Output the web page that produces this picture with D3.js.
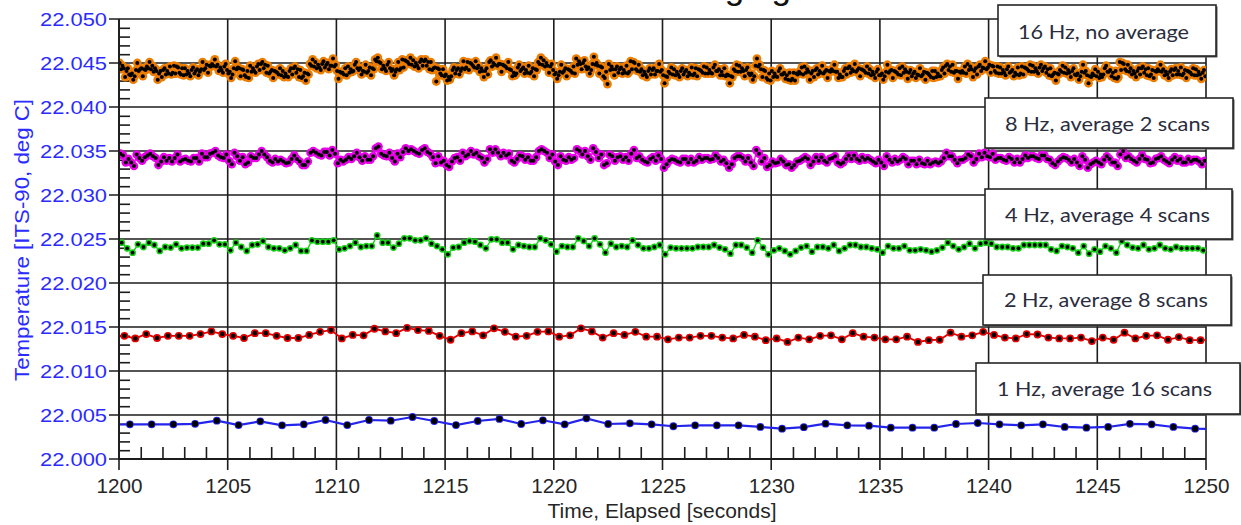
<!DOCTYPE html>
<html>
<head>
<meta charset="utf-8">
<script src="https://cdn.jsdelivr.net/npm/d3@7.9.0/dist/d3.min.js"></script>
<style>
  html, body { margin: 0; padding: 0; background: #fff; }
  svg { display: block; }
</style>
</head>
<body>
<svg id="chart" width="1241" height="525"></svg>
<script>
// all readings are mK above 22.000 deg C
const hz1 = [3.9, 3.94, 3.94, 3.94, 4.0, 4.35, 3.86, 4.28, 3.83, 3.94, 4.43, 3.86, 4.43, 4.35, 4.77,
  4.32, 3.86, 4.32, 4.55, 3.98, 4.40, 3.94, 4.62, 3.98, 4.05, 3.94, 3.72, 3.83, 3.83, 3.83, 3.64, 3.45,
  3.62, 4.01, 3.83, 3.79, 3.56, 3.56, 3.56, 3.98, 4.09, 3.94, 3.83, 3.94, 3.64, 3.56, 3.64, 4.0, 3.94, 3.64, 3.45, 3.4];

const hz2 = [14.0,
  14.0, 13.7, 14.2, 13.75, 14.0, 14.0, 14.0, 14.2, 14.5, 14.2, 14.0, 13.75, 14.3, 14.3, 14.0, 13.75, 13.75, 14.1, 14.45, 14.65,
  13.7, 14.1, 14.05, 14.8, 14.5, 14.3, 14.9, 14.65, 14.55, 14.0, 13.55, 14.3, 14.5, 14.05, 14.85, 14.45, 13.9, 14.0, 14.45, 14.5,
  13.9, 14.05, 14.85, 14.5, 13.8, 14.3, 14.1, 14.45, 13.9, 13.9, 13.6, 13.8, 13.8, 14.0, 14.0, 13.8, 13.7, 14.1, 13.9, 13.5,
  13.7, 13.3, 13.8, 13.6, 14.0, 14.05, 13.6, 14.3, 13.9, 13.8, 13.6, 13.6, 13.9, 13.3, 13.5, 13.55, 14.35, 13.9, 14.05, 14.45,
  14.1, 13.8, 13.7, 14.2, 14.15, 13.8, 13.7, 13.7, 13.8, 13.4, 13.8, 13.55, 14.35, 13.7, 14.0, 14.05, 13.55, 13.85, 13.5, 13.5,
  13.5];

const hz4 = [24.4,
  24.58, 23.94, 23.45, 24.39, 24.09, 24.58, 24.32, 23.64, 24.09, 24.02, 24.39, 23.94, 24.02, 24.02, 24.02, 24.47, 24.47, 24.85, 24.39, 24.39,
  23.71, 24.58, 24.09, 23.64, 24.32, 24.39, 24.77, 24.09, 23.94, 23.94, 23.71, 23.94, 24.32, 23.64, 23.64, 24.85, 24.7, 24.7, 24.7, 24.85,
  23.83, 23.94, 24.2, 24.58, 24.09, 24.2, 24.2, 25.4, 24.58, 24.58, 24.02, 24.47, 25.08, 25.08, 24.85, 24.85, 25.08, 24.47, 24.2, 23.83,
  23.26, 24.02, 24.09, 24.58, 24.77, 24.7, 24.32,
  23.94, 24.96, 24.96, 24.58, 24.58, 23.83, 24.32, 24.2, 24.09, 24.09, 25.08, 24.85, 24.39, 23.56, 24.2, 24.09, 24.09, 25.08, 24.77, 24.2,
  25.08, 24.39, 23.45, 24.47, 24.09, 24.2, 24.09, 24.85, 24.32, 23.94, 23.94, 24.09, 24.32, 23.26, 24.02, 23.94, 23.94, 23.94, 23.94, 24.09,
  24.09, 24.09, 24.32, 24.02, 23.83, 23.33, 24.32, 24.32, 24.02, 23.45, 24.85, 24.02, 23.26, 23.71, 23.94, 23.64, 23.26, 23.64, 24.02, 24.2,
  23.56, 24.09, 24.09, 23.94, 24.32, 23.64,
  23.94, 24.32, 24.32, 24.09, 24.09, 23.94, 23.83, 23.45, 24.2, 23.94, 23.94, 24.2, 23.71, 23.71, 23.83, 23.71, 23.56, 23.71, 24.02, 24.58,
  24.2, 23.83, 24.09, 24.47, 23.94, 24.47, 24.58, 24.47, 24.09, 24.09, 24.09, 23.94, 23.94, 24.32, 24.32, 24.32, 24.32, 24.32, 23.83, 23.64,
  24.2, 24.09, 23.94, 23.45, 24.2, 23.33, 23.83, 23.56, 24.2, 23.94, 23.45, 24.77, 24.32, 24.02, 23.94, 24.32, 23.83, 23.94, 24.32, 23.94,
  23.83, 24.09, 23.94, 23.94, 23.94, 23.94, 23.71,
  23.8];

const hz8 = [
  34.7,34.5, 33.7,34.1, 33.7,33.3, 34.6,34.2, 33.9,34.3, 34.5,34.7, 34.4,34.2, 33.4,33.8, 34.3,33.9, 34.2,33.8,
  34.2,34.6, 33.8,34.0, 34.1,33.9, 33.8,34.2, 34.2,33.8, 34.7,34.3, 34.3,34.7, 34.8,35.0, 34.5,34.3, 34.2,34.6,
  33.9,33.5, 34.8,34.4, 33.9,34.3, 33.5,33.7, 34.4,34.2, 34.2,34.6, 35.0,34.6, 34.3,33.9, 33.7,34.1, 33.8,34.0,
  33.8,33.6, 33.7,34.1, 34.5,34.1, 33.8,33.4, 33.4,33.8, 34.8,35.0, 34.8,34.6, 34.5,34.9, 34.9,34.5, 35.1,34.7,
  33.6,34.0, 33.8,34.0, 34.3,34.1, 34.4,34.8, 34.3,33.9, 34.4,34.0, 34.0,34.4, 35.3,35.5, 34.7,34.5, 34.4,34.8,
  34.2,33.8, 34.7,34.3, 34.9,35.3, 35.0,35.2, 35.0,34.8, 34.7,35.1, 35.3,34.9, 34.7,34.3, 33.6,34.4, 33.7,33.9,
  33.4,33.2, 33.8,34.2, 34.3,33.9, 34.8,34.4, 34.6,35.0, 34.6,34.8, 34.4,34.2, 33.7,34.1, 35.2,34.8, 35.2,34.8,
  34.4,34.8, 34.5,34.7, 33.9,33.7, 34.1,34.5, 34.4,34.0, 34.3,33.9, 33.9,34.3, 35.0,35.2, 35.0,34.8, 34.2,34.6,
  33.8,33.4, 34.4,34.0, 33.9,34.3, 34.0,34.2, 35.2,35.0, 34.6,35.0, 34.4,34.0, 35.3,34.9, 34.2,34.6, 33.4,33.6,
  34.6,34.4, 33.9,34.3, 34.4,34.0, 34.3,33.9, 34.7,35.1, 34.2,34.4, 34.0,33.8, 33.7,34.1, 34.3,33.9, 34.5,34.1,
  33.1,33.5, 33.9,34.1, 34.0,33.8, 33.7,34.1, 34.1,33.7, 34.1,33.7, 33.9,34.3, 34.0,34.2, 34.2,34.0, 34.1,34.5,
  34.2,33.8, 34.0,33.6, 33.1,33.5, 34.2,34.4, 34.4,34.2, 33.8,34.2, 33.7,33.3, 35.1,34.7, 33.8,34.2, 33.2,33.4,
  33.8,33.6, 33.7,34.1, 33.8,33.4, 33.5,33.1, 33.4,33.8, 33.9,34.1, 34.3,34.1, 33.4,33.8, 34.3,33.9, 34.3,33.9,
  33.7,34.1, 34.2,34.4, 33.7,33.5, 33.7,34.1, 34.5,34.1, 34.5,34.1, 33.9,34.3, 34.0,34.2, 34.0,33.8, 33.6,34.0,
  33.7,33.3, 34.4,34.0, 33.7,34.1, 33.8,34.0, 34.3,34.1, 33.5,33.9, 33.9,33.5, 34.0,33.6, 33.5,33.9, 33.5,33.7,
  33.8,33.6, 33.8,34.2, 34.8,34.4, 34.4,34.0, 33.6,34.0, 34.0,34.2, 34.6,34.4, 33.7,34.1, 34.7,34.3, 34.8,34.4,
  34.3,34.7, 34.0,34.2, 34.2,34.0, 33.9,34.3, 34.1,33.7, 34.1,33.7, 34.1,34.5, 34.2,34.4, 34.4,34.2, 34.1,34.5,
  34.5,34.1, 34.0,33.6, 33.4,33.8, 34.1,34.3, 34.2,34.0, 33.7,34.1, 33.7,33.3, 34.4,34.0, 33.1,33.5, 33.7,33.9,
  33.7,33.5, 34.0,34.4, 34.1,33.7, 33.7,33.3, 34.6,35.0, 34.2,34.4, 34.1,33.9, 33.7,34.1, 34.5,34.1, 34.0,33.6,
  33.7,34.1, 34.2,34.4, 34.0,33.8, 33.6,34.0, 34.3,33.9, 34.1,33.7, 33.7,34.1, 33.8,34.0, 34.0,33.8, 33.5,33.9];

const hz16 = [
  45.0,44.3,44.7,44.4, 43.4,44.1,44.4,43.7, 43.6,43.8,43.1,43.5, 44.2,45.0,44.1,44.3, 44.4,43.5,44.3,44.2, 44.6,44.4,45.1,44.3, 44.7,44.0,44.4,44.1, 43.1,43.8,44.1,43.4, 44.2,44.4,43.7,44.1, 43.8,44.6,43.7,43.9,
  44.7,43.8,44.6,44.5, 43.9,43.7,44.4,43.6, 44.4,43.7,44.1,43.8, 43.5,44.2,44.5,43.8, 44.1,44.3,43.6,44.0, 44.3,45.1,44.2,44.4, 44.8,43.9,44.7,44.6, 44.9,44.7,45.4,44.6, 44.8,44.1,44.5,44.2, 43.9,44.6,44.9,44.2,
  43.8,44.0,43.3,43.7, 44.4,45.2,44.3,44.5, 44.4,43.5,44.3,44.2, 43.6,43.4,44.1,43.3, 44.7,44.0,44.4,44.1, 43.9,44.6,44.9,44.2, 44.9,45.1,44.4,44.8, 43.9,44.7,43.8,44.0, 44.2,43.3,44.1,44.0, 43.9,43.7,44.4,43.6,
  44.1,43.4,43.8,43.5, 43.4,44.1,44.4,43.7, 44.4,44.6,43.9,44.3, 43.4,44.2,43.3,43.5, 43.9,43.0,43.8,43.7, 44.9,44.7,45.4,44.6, 45.1,44.4,44.8,44.5, 44.2,44.9,45.2,44.5, 44.8,45.0,44.3,44.7, 44.7,45.5,44.6,44.8,
  44.1,43.2,44.0,43.9, 43.9,43.7,44.4,43.6, 44.6,43.9,44.3,44.0, 44.1,44.8,45.1,44.4, 44.2,44.4,43.7,44.1, 44.0,44.8,43.9,44.1, 44.5,43.6,44.4,44.3, 45.4,45.2,45.6,45.1, 45.0,44.3,44.7,44.4, 44.1,44.8,45.1,44.4,
  44.1,44.3,43.6,44.0, 44.3,45.1,44.2,44.4, 45.4,44.5,45.3,45.2, 45.1,44.9,45.6,44.8, 45.3,44.6,45.0,44.7, 44.4,45.1,45.4,44.7, 45.2,45.4,44.7,45.1, 44.3,45.1,44.2,44.4, 44.5,42.9,44.4,44.3, 43.8,43.6,44.3,43.5,
  43.7,43.0,43.4,43.1, 43.5,44.2,44.5,43.8, 44.2,44.4,43.7,44.1, 44.4,45.2,44.3,44.5, 45.1,44.2,45.0,44.9, 44.7,44.5,45.2,44.4, 44.7,44.0,44.4,44.1, 43.4,44.1,44.4,43.7, 45.1,45.3,44.6,45.0, 44.8,45.6,44.7,44.9,
  44.9,44.0,44.8,44.7, 44.6,44.4,45.1,44.3, 44.2,43.5,43.9,43.6, 43.8,44.5,44.8,44.1, 44.3,44.5,43.8,44.2, 43.9,44.7,43.8,44.0, 44.4,43.5,44.3,44.2, 45.1,44.9,45.6,44.8, 45.3,44.6,45.0,44.7, 43.9,44.6,44.9,44.2,
  43.7,43.9,43.2,43.6, 44.0,44.8,43.9,44.1, 44.4,43.5,44.3,44.2, 44.1,43.9,44.6,43.8, 45.5,44.8,45.2,44.9, 44.3,45.0,45.3,44.6, 44.3,44.5,43.8,44.2, 44.9,45.7,44.8,45.0, 44.7,43.8,44.6,44.5, 43.5,43.3,44.0,42.6,
  44.9,44.2,44.6,44.3, 43.6,44.3,44.6,43.9, 44.3,44.5,43.8,44.2, 43.9,44.7,43.8,44.0, 45.2,44.3,45.1,45.0, 44.3,44.1,44.8,44.0, 44.3,43.6,44.0,43.7, 43.4,44.1,44.4,43.7, 44.2,44.4,43.7,44.1, 44.1,44.9,44.0,44.2,
  43.6,42.7,43.5,43.4, 44.0,43.8,44.5,43.7, 44.3,43.6,44.0,43.7, 43.4,44.1,44.4,43.7, 44.0,44.2,43.5,43.9, 43.7,44.5,43.6,43.8, 44.4,43.5,44.3,44.2, 44.1,43.9,44.6,43.8, 44.5,43.8,44.2,43.9, 43.8,44.5,44.8,44.1,
  44.1,44.3,43.6,44.0, 43.6,44.4,43.5,43.7, 43.6,42.7,43.5,43.4, 44.3,44.1,44.8,44.0, 44.7,44.0,44.4,44.1, 43.5,44.2,44.5,43.8, 43.6,43.8,43.1,43.5, 44.7,45.5,44.6,44.8, 44.3,43.4,44.2,44.1, 43.3,43.1,43.8,43.0,
  44.1,43.4,43.8,43.5, 43.4,44.1,44.4,43.7, 43.7,43.9,43.2,43.6, 43.1,43.9,43.0,43.2, 43.9,43.0,43.8,43.7, 44.0,43.8,44.5,43.7, 44.6,43.9,44.3,44.0, 43.1,43.8,44.1,43.4, 44.2,44.4,43.7,44.1, 43.9,44.7,43.8,44.0,
  44.2,43.3,44.1,44.0, 44.3,44.1,44.8,44.0, 44.0,43.3,43.7,43.4, 43.4,44.1,44.4,43.7, 44.4,44.6,43.9,44.3, 44.1,44.9,44.0,44.2, 44.4,43.5,44.3,44.2, 44.1,43.9,44.6,43.8, 44.3,43.6,44.0,43.7, 43.3,44.0,44.3,43.6,
  43.6,43.8,43.1,43.5, 44.0,44.8,43.9,44.1, 44.2,43.3,44.1,44.0, 43.9,43.7,44.4,43.6, 44.6,43.9,44.3,44.0, 43.2,43.9,44.2,43.5, 43.8,44.0,43.3,43.7, 43.6,44.4,43.5,43.7, 44.0,43.1,43.9,43.8, 43.6,43.4,44.1,43.3,
  44.1,43.4,43.8,43.5, 43.5,44.2,44.5,43.8, 44.7,44.9,44.2,44.6, 44.0,44.8,43.9,44.1, 44.1,43.2,44.0,43.9, 44.1,43.9,44.6,43.8, 44.9,44.2,44.6,44.3, 43.4,44.1,44.4,43.7, 44.6,44.8,44.1,44.5, 44.4,45.2,44.3,44.5,
  44.8,43.9,44.7,44.6, 44.1,43.9,44.6,43.8, 44.5,43.8,44.2,43.9, 43.6,44.3,44.6,43.9, 44.0,44.2,43.5,43.9, 43.7,44.5,43.6,43.8, 44.6,43.7,44.5,44.4, 44.3,44.1,44.8,44.0, 44.7,44.0,44.4,44.1, 43.8,44.5,44.8,44.1,
  44.4,44.6,43.9,44.3, 43.6,44.4,43.5,43.7, 43.9,43.0,43.8,43.7, 44.2,44.0,44.7,43.9, 44.5,43.8,44.2,43.9, 43.4,44.1,44.4,43.7, 43.6,43.8,43.1,43.5, 44.0,44.8,43.9,44.1, 43.6,42.7,43.5,43.4, 43.8,43.6,44.3,43.5,
  44.0,43.3,43.7,43.4, 43.7,44.4,44.7,44.0, 44.0,44.2,43.5,43.9, 43.3,44.1,43.2,43.4, 45.1,44.2,45.0,44.9, 44.3,44.1,44.8,44.0, 44.4,43.7,44.1,43.8, 43.4,44.1,44.4,43.7, 44.4,44.6,43.9,44.3, 43.6,44.4,43.5,43.7,
  44.2,43.3,44.1,44.0, 44.3,44.1,44.8,44.0, 44.3,43.6,44.0,43.7, 43.3,44.0,44.3,43.6, 44.2,44.4,43.7,44.1, 43.7,44.5,43.6,43.8, 44.2,43.3,44.1,44.0, 43.9,43.7,44.4,43.6, 44.3,43.6,44.0,43.7, 43.2,43.9,44.2,43.5];

const legendLabels = ['16 Hz, no average', '8 Hz, average 2 scans', '4 Hz, average 4 scans',
  '2 Hz, average 8 scans', '1 Hz, average 16 scans'];
const xMajor = [1200, 1205, 1210, 1215, 1220, 1225, 1230, 1235, 1240, 1245, 1250];
const yMajor = [22.000, 22.005, 22.010, 22.015, 22.020, 22.025, 22.030, 22.035, 22.040, 22.045, 22.050];

// first sample time and sample rate for each series
const series = [
  { values: hz16, t0: 1200 + 1 / 32, rate: 16, color: '#ec7d00', halo: 4.4, dot: 2.0, lw: 1.2 },
  { values: hz8,  t0: 1200 + 1 / 16, rate: 8,  color: '#e800e8', halo: 4.3, dot: 2.0, lw: 1.2 },
  { values: hz4,  t0: 1199.875,      rate: 4,  color: '#16d016', halo: 3.4, dot: 1.9, lw: 1.4 },
  { values: hz2,  t0: 1199.75,       rate: 2,  color: '#e40000', halo: 3.9, dot: 2.3, lw: 1.8 },
  { values: hz1,  t0: 1199.5,        rate: 1,  color: '#2424ec', halo: 3.9, dot: 3.0, lw: 2.2 },
];

const svg = d3.select('#chart');
const pL = 119, pR = 1206, pT = 19, pB = 459;

const x = d3.scaleLinear().domain([1200, 1250]).range([pL, pR]);
const y = d3.scaleLinear().domain([22.000, 22.050]).range([pB, pT]);
const temp = v => 22 + v / 1000;

const defs = svg.append('defs');
defs.append('clipPath').attr('id', 'plot-clip')
  .append('rect').attr('x', pL).attr('y', pT).attr('width', pR - pL).attr('height', pB - pT);
defs.append('filter').attr('id', 'soft')
  .append('feGaussianBlur').attr('stdDeviation', 0.55);

// partially cut-off title at the very top
svg.append('text')
  .attr('x', 634).attr('y', -1.5)
  .attr('font-family', 'Liberation Sans, Arial, sans-serif')
  .attr('font-size', 35)
  .attr('fill', '#111')
  .text('Averaging');

// grid
const grid = svg.append('g').attr('stroke', '#1c1c1c').attr('stroke-width', 1.6);
grid.selectAll('line.h').data(yMajor).join('line')
  .attr('x1', pL - 10).attr('x2', pR)
  .attr('y1', d => y(d)).attr('y2', d => y(d));
grid.selectAll('line.v').data(xMajor).join('line')
  .attr('x1', d => x(d)).attr('x2', d => x(d))
  .attr('y1', pT).attr('y2', pB + 11);

// minor ticks
svg.append('g').attr('transform', `translate(${pL},0)`)
  .call(d3.axisLeft(y).tickValues(d3.range(0, 51).filter(i => i % 5).map(i => 22 + i / 1000)).tickSize(-11).tickFormat(''))
  .call(g => g.select('.domain').remove())
  .selectAll('line').attr('stroke', '#1c1c1c').attr('stroke-width', 1.6);
svg.append('g').attr('transform', `translate(0,${pB})`)
  .call(d3.axisBottom(x).tickValues(d3.range(1200, 1251).filter(v => v % 5)).tickSize(-12).tickFormat(''))
  .call(g => g.select('.domain').remove())
  .selectAll('line').attr('stroke', '#1c1c1c').attr('stroke-width', 1.6);

// series
const plot = svg.append('g').attr('clip-path', 'url(#plot-clip)');
series.forEach(s => {
  const pts = s.values.map((v, i) => ({ t: s.t0 + i / s.rate, v: temp(v) }));
  const g = plot.append('g');
  g.append('path')
    .datum(pts)
    .attr('fill', 'none')
    .attr('stroke', s.color)
    .attr('stroke-width', s.lw)
    .attr('d', d3.line().x(d => x(d.t)).y(d => y(d.v)));
  g.append('g').attr('filter', 'url(#soft)')
    .selectAll('circle').data(pts).join('circle')
    .attr('cx', d => x(d.t)).attr('cy', d => y(d.v))
    .attr('r', s.halo).attr('fill', s.color);
  g.append('g')
    .selectAll('circle').data(pts).join('circle')
    .attr('cx', d => x(d.t)).attr('cy', d => y(d.v))
    .attr('r', s.dot).attr('fill', '#000');
});

// axes with labels
svg.append('g').attr('transform', `translate(${pL},0)`)
  .call(d3.axisLeft(y).tickValues(yMajor).tickSize(10).tickPadding(2).tickFormat(d3.format('.3f')))
  .call(g => g.select('.domain').remove())
  .call(g => g.selectAll('line').remove())
  .selectAll('text')
  .attr('font-family', 'Liberation Sans, Arial, sans-serif')
  .attr('font-size', 19)
  .attr('fill', '#2b2bff')
  .attr('textLength', 67)
  .attr('lengthAdjust', 'spacingAndGlyphs');

svg.append('g').attr('transform', `translate(0,${pB})`)
  .call(d3.axisBottom(x).tickValues(xMajor).tickSize(11).tickPadding(8).tickFormat(d3.format('d')))
  .call(g => g.select('.domain').remove())
  .call(g => g.selectAll('line').remove())
  .selectAll('text')
  .attr('font-family', 'Liberation Sans, Arial, sans-serif')
  .attr('font-size', 21)
  .attr('fill', '#262626')
  .attr('textLength', 46)
  .attr('lengthAdjust', 'spacingAndGlyphs');

// frame
svg.append('path')
  .attr('d', `M${pL},${pT}V${pB}H${pR}`)
  .attr('fill', 'none').attr('stroke', '#1c1c1c').attr('stroke-width', 1.8);

// axis titles
svg.append('text')
  .attr('x', 662).attr('y', 518)
  .attr('text-anchor', 'middle')
  .attr('font-family', 'Liberation Sans, Arial, sans-serif')
  .attr('font-size', 20)
  .attr('fill', '#262626')
  .attr('textLength', 229).attr('lengthAdjust', 'spacingAndGlyphs')
  .text('Time, Elapsed [seconds]');

svg.append('text')
  .attr('transform', 'translate(28.5,240) rotate(-90)')
  .attr('text-anchor', 'middle')
  .attr('font-family', 'Liberation Sans, Arial, sans-serif')
  .attr('font-size', 20)
  .attr('fill', '#2b2bff')
  .attr('textLength', 282).attr('lengthAdjust', 'spacingAndGlyphs')
  .text('Temperature [ITS-90, deg C]');

// legend boxes
const boxes = [
  { x0: 998, x1: 1216, y0: 5,   y1: 56,  tx: 1103.5, ty: 39,  tw: 171 },
  { x0: 985, x1: 1233, y0: 98,  y1: 148, tx: 1107.5, ty: 131, tw: 205 },
  { x0: 985, x1: 1232, y0: 189, y1: 239, tx: 1107.5, ty: 222, tw: 205 },
  { x0: 983, x1: 1231, y0: 275, y1: 325, tx: 1106,   ty: 307, tw: 204 },
  { x0: 976, x1: 1240, y0: 363, y1: 414, tx: 1104.5, ty: 396, tw: 215 },
];
const legend = svg.append('g');
boxes.forEach((b, i) => {
  legend.append('rect')
    .attr('x', b.x0 + 1.5).attr('y', b.y0 + 1.5)
    .attr('width', b.x1 - b.x0).attr('height', b.y1 - b.y0)
    .attr('fill', '#555');
  legend.append('rect')
    .attr('x', b.x0).attr('y', b.y0)
    .attr('width', b.x1 - b.x0).attr('height', b.y1 - b.y0)
    .attr('fill', '#fff').attr('stroke', '#262626').attr('stroke-width', 1.6);
  legend.append('text')
    .attr('x', b.tx).attr('y', b.ty)
    .attr('text-anchor', 'middle')
    .attr('font-family', 'Lato, "Open Sans", sans-serif')
    .attr('font-size', 20)
    .attr('fill', '#2a2d3e')
    .attr('textLength', b.tw).attr('lengthAdjust', 'spacingAndGlyphs')
    .text(legendLabels[i]);
});
</script>
</body>
</html>
